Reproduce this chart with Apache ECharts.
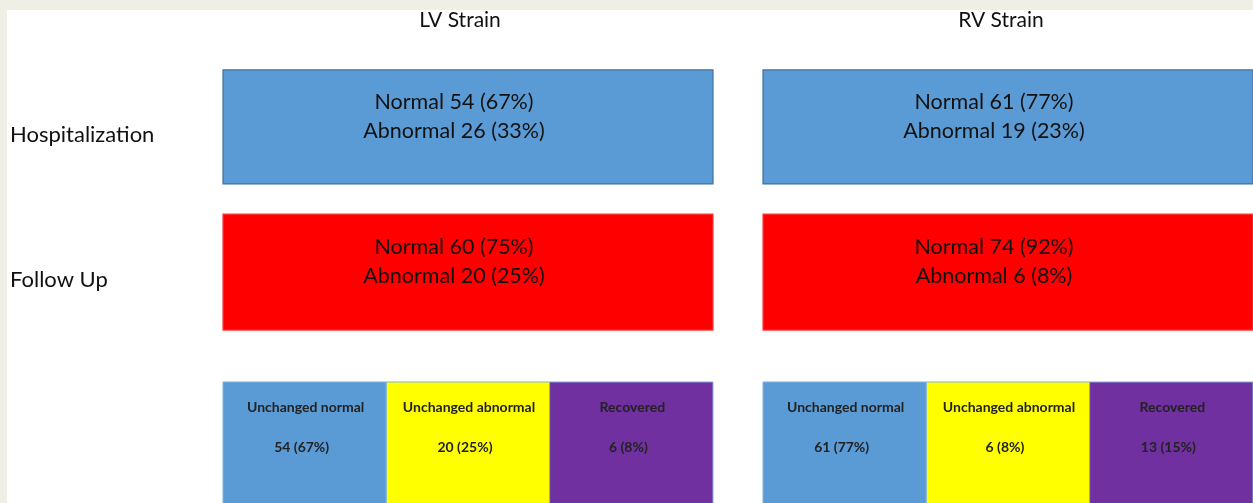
<!DOCTYPE html>
<html lang="en">
<head>
    <meta charset="utf-8">
    <title>LV / RV Strain</title>
    <script src="https://cdn.jsdelivr.net/npm/echarts@6/dist/echarts.min.js"></script>
    <style>
        body { margin: 0; background: #efefe5; }
        #main { position: absolute; left: 7px; top: 10px; width: 1246px; height: 493px; background: #fff; }
    </style>
</head>
<body>
    <div id="main"></div>
    <script type="text/javascript">
        // data
        var strains = ['LV Strain', 'RV Strain'];
        var stages = ['Hospitalization', 'Follow Up'];
        var changeCats = ['Unchanged normal', 'Unchanged abnormal', 'Recovered'];

        var lvNormal = [54, 60], lvNormalPct = [67, 75];
        var lvAbnormal = [26, 20], lvAbnormalPct = [33, 25];
        var rvNormal = [61, 74], rvNormalPct = [77, 92];
        var rvAbnormal = [19, 6], rvAbnormalPct = [23, 8];

        var lvChange = [54, 20, 6], lvChangePct = [67, 25, 8];
        var rvChange = [61, 6, 13], rvChangePct = [77, 8, 15];

        var stageColors = ['#5b9bd5', '#ff0000'];
        var stageBorders = ['#41719c', '#ff3b3b'];
        var changeColors = ['#5b9bd5', '#ffff00', '#7030a0'];

        var myChart = echarts.init(document.getElementById('main'));

        function makeSeries(k, normal, normalPct, abnormal, abnormalPct, change, changePct) {
            var items = [];
            stages.forEach(function (s, i) { items.push([0, i]); });
            changeCats.forEach(function (c, j) { items.push([j, 2]); });
            return {
                type: 'custom',
                xAxisIndex: k,
                yAxisIndex: k,
                data: items,
                renderItem: function (params, api) {
                    var col = api.value(0), row = api.value(1);
                    var p = api.coord([col, row]);
                    var sz = api.size([1, 1]);
                    var bw = sz[0], bh = sz[1];
                    var top = p[1] - bh / 2;
                    var x, y, w, h;
                    if (row < 2) {
                        x = p[0] - bw / 2; w = bw * 3;
                        y = top + bh * (row == 0 ? 0.103 : 0.097); h = bh * (row == 0 ? 0.786 : 0.8);
                        return {
                            type: 'group',
                            children: [{
                                type: 'rect',
                                shape: { x: x, y: y, width: w, height: h },
                                style: { fill: stageColors[row], stroke: stageBorders[row], lineWidth: 1.2 }
                            }, {
                                type: 'text',
                                style: {
                                    text: 'Normal ' + normal[row] + ' (' + normalPct[row] + '%)\nAbnormal ' + abnormal[row] + ' (' + abnormalPct[row] + '%)',
                                    x: x + w / 2 - 14, y: y + 47,
                                    align: 'center', verticalAlign: 'middle',
                                    font: '21.5px Lato', lineHeight: 29, fill: '#111'
                                }
                            }]
                        };
                    }
                    x = p[0] - bw / 2; w = bw;
                    y = top + bh * 0.255; h = bh;
                    return {
                        type: 'group',
                        children: [{
                            type: 'rect',
                            shape: { x: x, y: y, width: w, height: h },
                            style: { fill: changeColors[col], stroke: '#7fb2e0', lineWidth: 1 }
                        }, {
                            type: 'text',
                            style: {
                                text: changeCats[col], x: x + w / 2 + 1, y: y + 26,
                                align: 'center', verticalAlign: 'middle',
                                font: 'bold 14px Lato', fill: '#222'
                            }
                        }, {
                            type: 'text',
                            style: {
                                text: change[col] + ' (' + changePct[col] + '%)', x: x + w / 2 - 3, y: y + 66,
                                align: 'center', verticalAlign: 'middle',
                                font: 'bold 14px Lato', fill: '#222'
                            }
                        }]
                    };
                }
            };
        }

        myChart.setOption({
            animation: false,
            title: [
                { text: strains[0], left: 453, top: 0, padding: 0, textAlign: 'center',
                  textStyle: { fontFamily: 'Lato', fontSize: 21, fontWeight: 'normal', color: '#111' } },
                { text: strains[1], left: 994, top: 0, padding: 0, textAlign: 'center',
                  textStyle: { fontFamily: 'Lato', fontSize: 21, fontWeight: 'normal', color: '#111' } }
            ],
            grid: [
                { left: 215, width: 491, top: 45, height: 435 },
                { left: 756, width: 492, top: 45, height: 435 }
            ],
            xAxis: [0, 1].map(function (k) {
                return { type: 'category', gridIndex: k, data: changeCats, show: false };
            }),
            yAxis: [0, 1].map(function (k) {
                return {
                    type: 'category', gridIndex: k, inverse: true,
                    data: stages.concat(['']),
                    axisLine: { show: false }, axisTick: { show: false }, splitLine: { show: false },
                    axisLabel: {
                        show: k == 0, align: 'left', margin: 213,
                        formatter: function (v) { return v ? '{a|' + v + '}' : ''; },
                        rich: { a: { padding: [15, 0, 0, 0], fontFamily: 'Lato', fontSize: 22, color: '#111' } }
                    }
                };
            }),
            series: [
                makeSeries(0, lvNormal, lvNormalPct, lvAbnormal, lvAbnormalPct, lvChange, lvChangePct),
                makeSeries(1, rvNormal, rvNormalPct, rvAbnormal, rvAbnormalPct, rvChange, rvChangePct)
            ]
        });
    </script>
</body>
</html>
